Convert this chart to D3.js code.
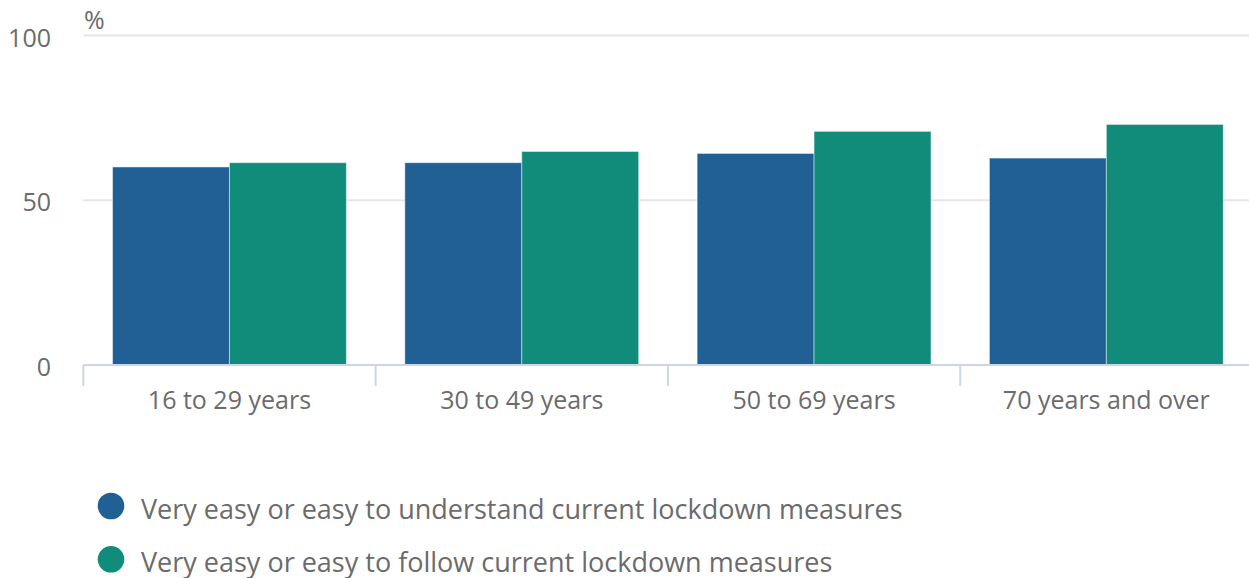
<!DOCTYPE html>
<html>
<head>
<meta charset="utf-8">
<script src="https://cdn.jsdelivr.net/npm/d3@7"></script>
<style>
  html, body { margin: 0; padding: 0; background: #fff; }
  svg { display: block; font-family: "Open Sans", sans-serif; }
</style>
</head>
<body>
<svg id="chart" width="1249" height="578"></svg>
<script>
const categories = ["16 to 29 years", "30 to 49 years", "50 to 69 years", "70 years and over"];
const seriesNames = [
  "Very easy or easy to understand current lockdown measures",
  "Very easy or easy to follow current lockdown measures"
];
const understandValues = [60.1, 61.4, 64.2, 62.8];
const followValues = [61.4, 64.8, 70.9, 73.0];
const yTicks = [0, 50, 100];
const colors = ["#206095", "#118c7b"];

const svg = d3.select("#chart");
const margin = { left: 83.3, top: 35.5, bottom: 365 };
const plotRight = 1252.5;
const textColor = "#6b6b6b";

const x = d3.scaleBand().domain(categories).range([margin.left, plotRight]).paddingInner(0).paddingOuter(0);
const x1 = d3.scaleBand().domain([0, 1]).range([0, x.bandwidth()]).paddingOuter(0.25).paddingInner(0);
const y = d3.scaleLinear().domain([0, 100]).range([margin.bottom, margin.top]);

// gridlines
svg.append("g")
  .selectAll("line")
  .data(yTicks.filter(d => d !== 0))
  .join("line")
  .attr("x1", margin.left).attr("x2", 1249)
  .attr("y1", d => y(d)).attr("y2", d => y(d))
  .attr("stroke", "#e6e6e6").attr("stroke-width", 2);

// y labels
svg.append("g")
  .selectAll("text")
  .data(yTicks)
  .join("text")
  .attr("x", 51).attr("y", d => y(d) + 11)
  .attr("text-anchor", "end")
  .attr("font-size", 25)
  .attr("fill", textColor)
  .text(d => d);

// unit label
svg.append("text")
  .attr("x", 84).attr("y", 29)
  .attr("font-size", 25).attr("fill", textColor)
  .text("%");

// bars
const series = [understandValues, followValues];
const groups = svg.append("g")
  .selectAll("g")
  .data(categories)
  .join("g")
  .attr("transform", d => `translate(${x(d)},0)`);

groups.selectAll("rect")
  .data((d, i) => series.map((s, j) => ({ j, v: s[i] })))
  .join("rect")
  .attr("x", d => x1(d.j))
  .attr("width", x1.bandwidth())
  .attr("y", d => y(d.v))
  .attr("height", d => y(0) - y(d.v))
  .attr("fill", d => colors[d.j])
  .attr("stroke", "rgba(255,255,255,0.45)")
  .attr("stroke-width", 1);

// x axis
const axisG = svg.append("g").attr("transform", `translate(0,${y(0)})`);
axisG.append("line")
  .attr("x1", margin.left).attr("x2", 1249)
  .attr("y1", 0).attr("y2", 0)
  .attr("stroke", "#ccd6eb").attr("stroke-width", 2);
const boundaries = categories.map(c => x(c)).concat([plotRight]);
axisG.selectAll("line.tick")
  .data(boundaries)
  .join("line")
  .attr("class", "tick")
  .attr("x1", d => d).attr("x2", d => d)
  .attr("y1", 0).attr("y2", 21)
  .attr("stroke", "#ccd6eb").attr("stroke-width", 2);
axisG.selectAll("text.lbl")
  .data(categories)
  .join("text")
  .attr("class", "lbl")
  .attr("x", d => x(d) + x.bandwidth() / 2)
  .attr("y", 43.5)
  .attr("text-anchor", "middle")
  .attr("font-size", 25)
  .attr("fill", textColor)
  .text(d => d);

// legend
const legend = svg.append("g");
seriesNames.forEach((name, i) => {
  const cy = 506 + i * 53.3;
  legend.append("circle").attr("cx", 111).attr("cy", cy).attr("r", 13.3).attr("fill", colors[i]);
  legend.append("text").attr("x", 141).attr("y", cy + 13)
    .attr("font-size", 27).attr("fill", textColor).text(name);
});
</script>
</body>
</html>
